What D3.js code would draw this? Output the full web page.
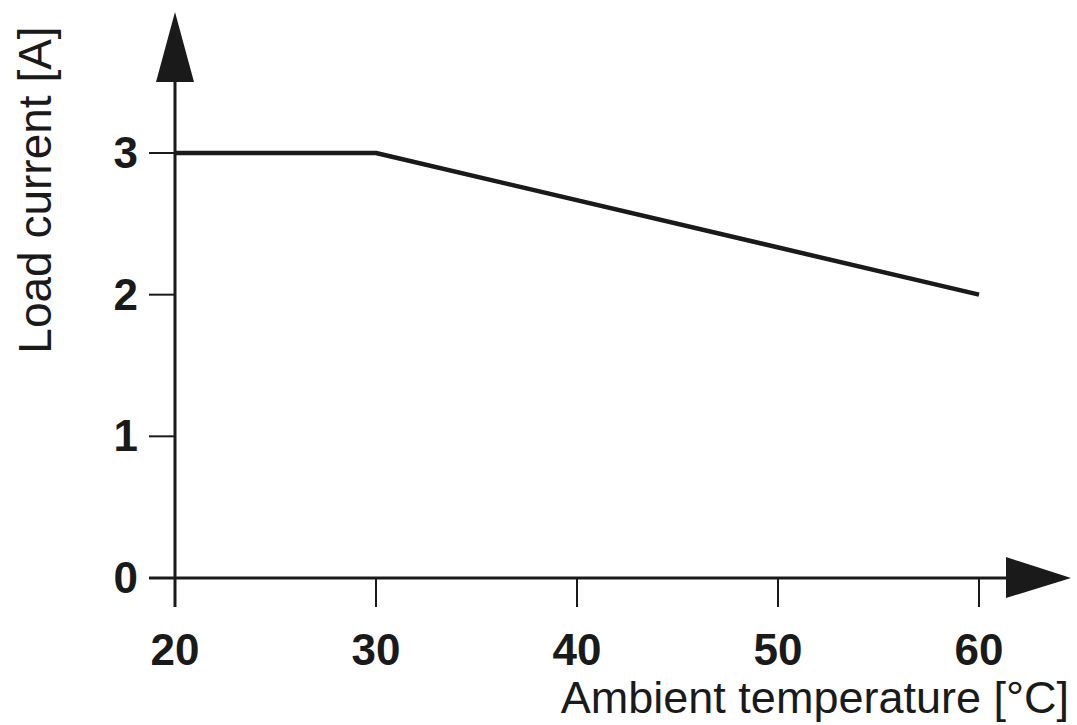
<!DOCTYPE html>
<html>
<head>
<meta charset="utf-8">
<script src="https://cdn.jsdelivr.net/npm/d3@7"></script>
<style>
  body { margin: 0; background: #fff; }
  text { font-family: "Liberation Sans", Arial, sans-serif; fill: #1a1a1a; }
</style>
</head>
<body>
<svg id="chart" width="1077" height="725"></svg>
<script>
// derating curve
const temps = [20, 30, 60];
const currents = [3, 3, 2];
const xTicks = [20, 30, 40, 50, 60];
const yTicks = [0, 1, 2, 3];
const xTitle = "Ambient temperature [°C]";
const yTitle = "Load current [A]";

const svg = d3.select("#chart");
const ink = "#1a1a1a";

const x = d3.scaleLinear().domain([20, 60]).range([175, 979]);
const y = d3.scaleLinear().domain([0, 3]).range([578, 153]);

//axes lines
const x0 = x(20), y0 = y(0);
svg.append("line").attr("x1", x0).attr("x2", 1010).attr("y1", y0).attr("y2", y0)
  .attr("stroke", ink).attr("stroke-width", 3);
svg.append("line").attr("x1", x0).attr("x2", x0).attr("y1", 80).attr("y2", y0)
  .attr("stroke", ink).attr("stroke-width", 3);

// arrow heads
svg.append("path").attr("d", `M${x0},12 L${x0 - 19},82 L${x0 + 19},82 Z`).attr("fill", ink);
svg.append("path").attr("d", `M1071,${y0} L1006,${y0 - 21} L1006,${y0 + 20} Z`).attr("fill", ink);

// x ticks
const gx = svg.append("g");
gx.selectAll("line").data(xTicks).join("line")
  .attr("x1", d => x(d)).attr("x2", d => x(d))
  .attr("y1", y0).attr("y2", y0 + 29)
  .attr("stroke", ink).attr("stroke-width", d => d === 20 ? 3 : 2);
gx.selectAll("text").data(xTicks).join("text")
  .attr("x", d => x(d)).attr("y", 665)
  .attr("text-anchor", "middle")
  .attr("font-size", 44).attr("font-weight", "bold")
  .text(d => d);

// y ticks
const gy = svg.append("g");
gy.selectAll("line").data(yTicks).join("line")
  .attr("x1", x0 - 26).attr("x2", x0)
  .attr("y1", d => y(d)).attr("y2", d => y(d))
  .attr("stroke", ink).attr("stroke-width", d => d === 0 ? 3 : 2);
gy.selectAll("text").data(yTicks).join("text")
  .attr("x", 138).attr("y", d => y(d) + 15)
  .attr("text-anchor", "end")
  .attr("font-size", 44).attr("font-weight", "bold")
  .text(d => d);

// curve
const line = d3.line().x((d, i) => x(d)).y((d, i) => y(currents[i]));
svg.append("path").attr("d", line(temps))
  .attr("fill", "none").attr("stroke", ink).attr("stroke-width", 4.5)
  .attr("stroke-linejoin", "round");

// titles
svg.append("text").attr("x", 1069).attr("y", 713)
  .attr("text-anchor", "end").attr("font-size", 45)
  .text(xTitle);
svg.append("text")
  .attr("transform", "translate(51,190) rotate(-90)")
  .attr("text-anchor", "middle").attr("font-size", 46)
  .text(yTitle);
</script>
</body>
</html>
